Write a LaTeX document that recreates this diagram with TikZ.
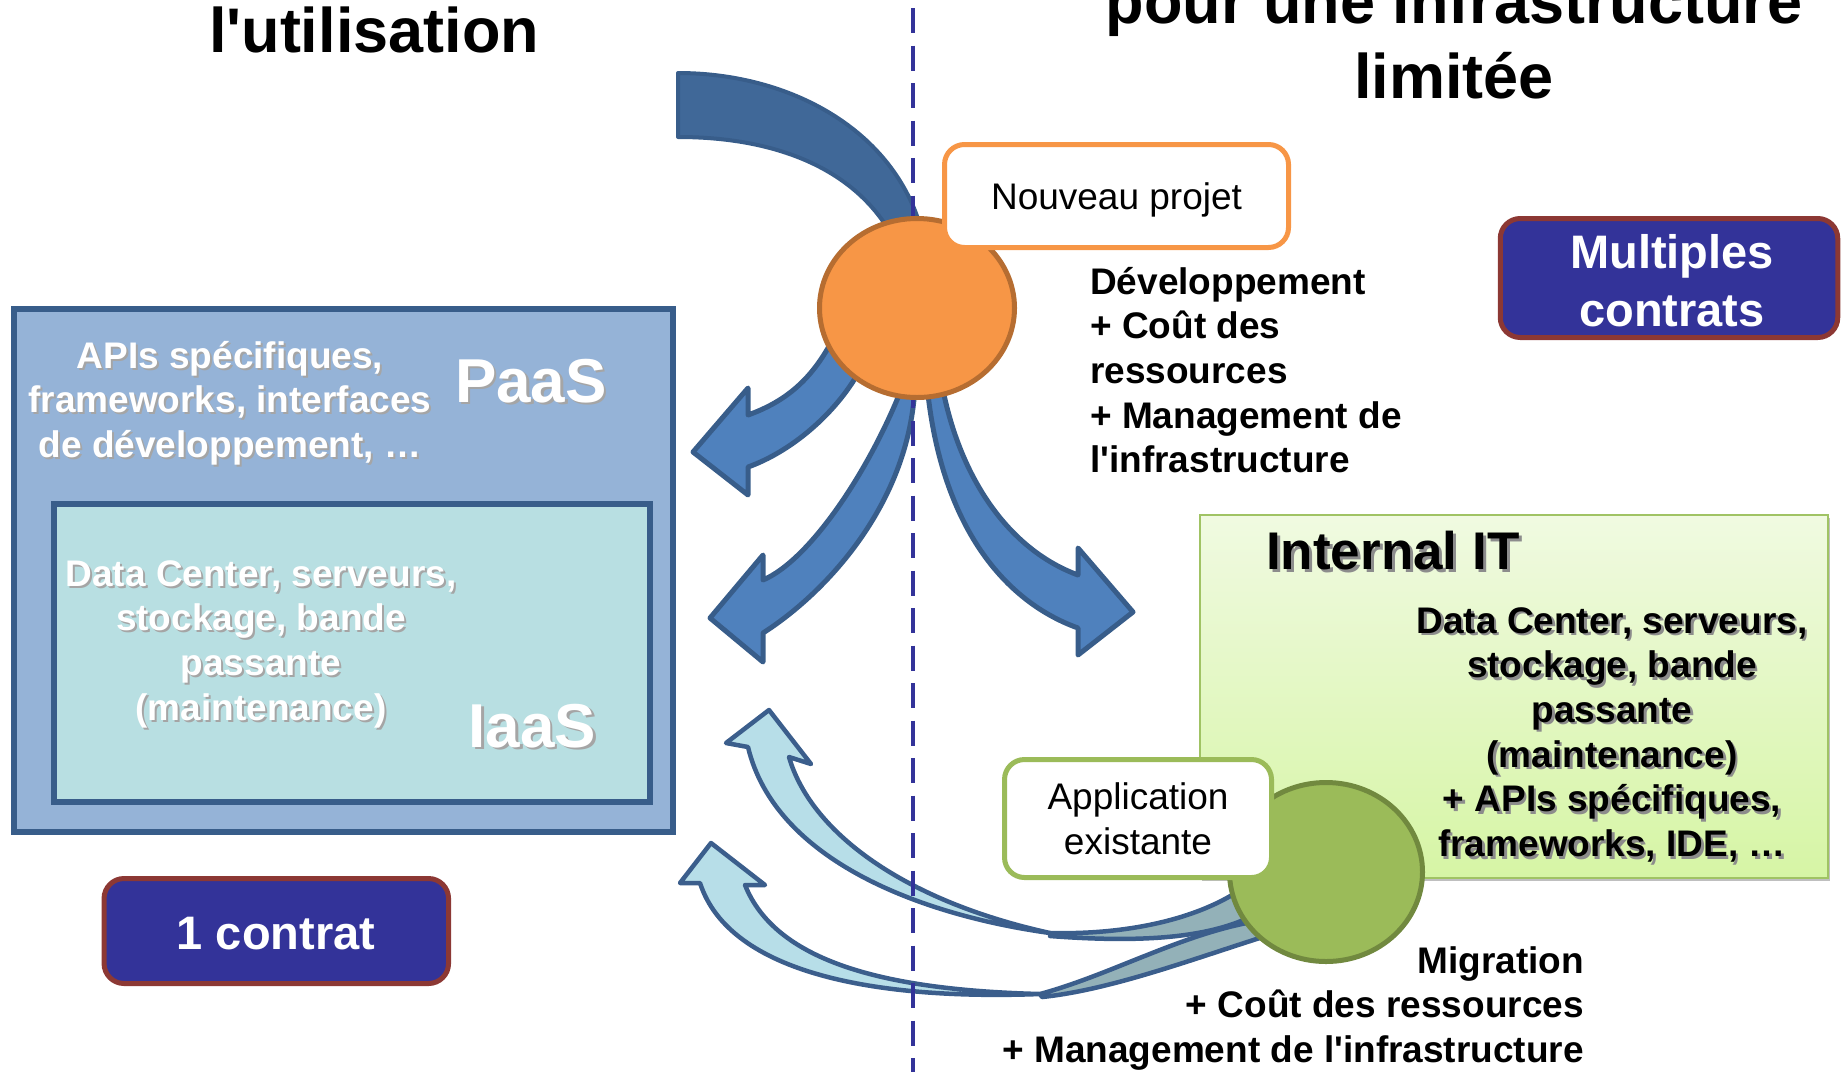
\documentclass[tikz,border=0pt]{standalone}
\usepackage{fontspec}
\setmainfont{Liberation Sans}
\usetikzlibrary{shapes.geometric,shadows}

\definecolor{bandblue}{RGB}{64,104,152}
\definecolor{bandedge}{RGB}{56,93,138}
\definecolor{arrowblue}{RGB}{79,129,189}
\definecolor{arrowedge}{RGB}{56,93,138}
\definecolor{orangefill}{RGB}{247,150,70}
\definecolor{orangeedge}{RGB}{182,109,49}
\definecolor{greenfill}{RGB}{155,187,89}
\definecolor{greenedge}{RGB}{113,137,63}
\definecolor{cyanlight}{RGB}{183,222,232}
\definecolor{cyandark}{RGB}{147,177,184}
\definecolor{cyanedge}{RGB}{59,94,140}
\definecolor{contractfill}{RGB}{51,51,153}
\definecolor{contractedge}{RGB}{140,56,52}
\definecolor{paasfill}{RGB}{149,179,215}
\definecolor{iaasfill}{RGB}{184,223,226}
\definecolor{frameedge}{RGB}{56,93,138}
\definecolor{ittop}{RGB}{240,250,225}
\definecolor{itbottom}{RGB}{214,245,165}
\definecolor{itedge}{RGB}{160,195,100}
\definecolor{dividerblue}{RGB}{51,51,153}
\definecolor{txtshadow}{RGB}{165,165,165}
\definecolor{darkshadow}{RGB}{140,140,140}

% a block of lines whose baseline is that of its first line
\newcommand{\txtblock}[2]{\begin{tabular}[t]{@{}#1@{}}#2\end{tabular}}

\begin{document}
\begin{tikzpicture}[x=1pt,y=-1pt,
  title/.style={font=\fontsize{63}{75}\selectfont\bfseries, inner sep=0pt},
  bodybold/.style={font=\fontsize{37}{44.7}\selectfont\bfseries, inner sep=0pt},
  bodyplain/.style={font=\fontsize{37}{45}\selectfont, inner sep=0pt},
  bigword/.style={font=\fontsize{62}{70}\selectfont\bfseries, inner sep=0pt},
  ittitle/.style={font=\fontsize{53}{60}\selectfont\bfseries, inner sep=0pt},
  contract/.style={draw=contractedge, fill=contractfill, line width=5pt, rounded corners=20pt, inner sep=0pt},
  contracttext/.style={font=\fontsize{47}{58}\selectfont\bfseries, text=white, inner sep=0pt},
  callout/.style={draw=#1, fill=white, line width=5pt, rounded corners=20pt, inner sep=0pt},
  hub/.style={ellipse, line width=5pt, inner sep=0pt},
  layer/.style={draw=frameedge, rectangle, inner sep=0pt},
  bigarrow/.style={fill=arrowblue, draw=arrowedge, line width=5pt, line join=round},
  ribbonlight/.style={fill=cyanlight, draw=cyanedge, line width=4.5pt, line join=round},
  ribbondark/.style={fill=cyandark, draw=cyanedge, line width=4.5pt, line join=round},
]
\useasboundingbox (0,0) rectangle (1841,1072);
\clip (0,0) rectangle (1841,1072);

% ---- titles
\node[title, anchor=base] (titleleft) at (374,52) {l\textquotesingle utilisation};
\node[title, anchor=base] (titleright) at (1454,23) {\txtblock{c}{pour une infrastructure\\limitée}};

% ---- cloud stack: PaaS over IaaS
\node[layer, fill=paasfill, line width=6.5pt, minimum width=659pt, minimum height=523pt] (paas) at (343.5,570.5) {};
\node[layer, fill=iaasfill, line width=6pt, minimum width=596pt, minimum height=298pt] (iaas) at (352,653) {};

\node[bodybold, text=txtshadow, anchor=base] (paastextshadow) at (232,370)
  {\txtblock{c}{APIs spécifiques,\\frameworks, interfaces\\de développement, …}};
\node[bodybold, text=white, anchor=base] (paastext) at (230,368)
  {\txtblock{c}{APIs spécifiques,\\frameworks, interfaces\\de développement, …}};
\node[bigword, text=txtshadow, anchor=base] (paaslabelshadow) at (533.5,404.5) {PaaS};
\node[bigword, text=white, anchor=base] (paaslabel) at (531,402) {PaaS};

\node[bodybold, text=txtshadow, anchor=base] (iaastextshadow) at (263,588)
  {\txtblock{c}{Data Center, serveurs,\\stockage, bande\\passante\\(maintenance)}};
\node[bodybold, text=white, anchor=base] (iaastext) at (261,586)
  {\txtblock{c}{Data Center, serveurs,\\stockage, bande\\passante\\(maintenance)}};
\node[bigword, text=txtshadow, anchor=base] (iaaslabelshadow) at (535,749.5) {IaaS};
\node[bigword, text=white, anchor=base] (iaaslabel) at (532.5,747) {IaaS};

% ---- internal IT
\node[draw=itedge, line width=2.5pt, top color=ittop, bottom color=itbottom,
      minimum width=628pt, minimum height=363pt, inner sep=0pt,
      drop shadow={shadow xshift=1.5pt, shadow yshift=-3pt, fill=black, opacity=0.25}]
      (internal) at (1514,696.5) {};
\node[ittitle, text=darkshadow, anchor=base west] (ittitleshadow) at (1269,572) {Internal IT};
\node[ittitle, anchor=base west] (ittitletext) at (1266,569) {Internal IT};
\node[bodybold, text=darkshadow, anchor=base] (ittextshadow) at (1614.5,635.5)
  {\txtblock{c}{Data Center, serveurs,\\stockage, bande\\passante\\(maintenance)\\+ APIs spécifiques,\\frameworks, IDE, …}};
\node[bodybold, anchor=base] (ittext) at (1612,633)
  {\txtblock{c}{Data Center, serveurs,\\stockage, bande\\passante\\(maintenance)\\+ APIs spécifiques,\\frameworks, IDE, …}};

% ---- flows leaving the new project
\draw[fill=bandblue, draw=bandedge, line width=4pt, line join=round]
  (678,73) .. controls (790,73) and (895,130) .. (922,232)
  -- (890,232) .. controls (850,165) and (770,137) .. (678,137) -- cycle;
\draw[bigarrow] (835,335) .. controls (815,375) and (790,400) .. (748,415)
  -- (748,388) -- (693,452) -- (748,495) -- (748,467)
  .. controls (790,452) and (835,415) .. (860,370) -- cycle;
\draw[bigarrow] (903,385) .. controls (870,470) and (810,560) .. (763,580)
  -- (763,555) -- (710,618) -- (763,662) -- (763,633)
  .. controls (830,590) and (910,500) .. (915,385) -- cycle;
\draw[bigarrow] (942,385) .. controls (960,480) and (1010,550) .. (1078,575)
  -- (1078,548) -- (1133,612) -- (1078,655) -- (1078,628)
  .. controls (1000,600) and (940,520) .. (927,385) -- cycle;

% ---- migration ribbons leaving the existing application
\draw[ribbonlight] (745,885) .. controls (775,960) and (880,990) .. (1040,994)
  .. controls (880,1000) and (730,975) .. (700,883)
  -- (680,883) -- (711,843) -- (765,885) -- cycle;
\draw[ribbondark] (1040,994) .. controls (1110,975) and (1180,935) .. (1252,922)
  -- (1266,936) .. controls (1190,960) and (1110,990) .. (1042,997) -- cycle;
\draw[ribbonlight] (789,757) .. controls (810,830) and (900,900) .. (1050,933)
  .. controls (920,915) and (775,860) .. (748,747)
  -- (726,743) -- (769,710) -- (811,764) -- cycle;
\draw[ribbondark] (1050,933) .. controls (1130,935) and (1200,918) .. (1243,888)
  -- (1248,918) .. controls (1200,940) and (1130,942) .. (1050,936) -- cycle;

% ---- divider between the two models
\coordinate (divtop) at (913,0);
\coordinate (divbot) at (913,1072);
\draw[dividerblue, line width=4.5pt, dash pattern=on 25pt off 12.5pt, dash phase=29.5pt] (divtop) -- (divbot);

% ---- hubs
\node[hub, fill=orangefill, draw=orangeedge, minimum width=195pt, minimum height=179pt] (newhub) at (917,308) {};
\node[hub, fill=greenfill, draw=greenedge, minimum width=193pt, minimum height=179pt] (oldhub) at (1326,872) {};

% ---- callouts
\node[callout=orangefill, bodyplain, minimum width=344pt, minimum height=103pt,
      text height=26pt, text depth=0pt] (newproj) at (1116.5,196) {Nouveau projet};
\node[callout=greenfill, minimum width=267pt, minimum height=118pt] (oldapp) at (1138,818.5) {};
\node[bodyplain, anchor=base] (oldapptext) at (1138,809) {\txtblock{c}{Application\\existante}};

% ---- contracts
\node[contract, minimum width=344.5pt, minimum height=105pt] (onecontract) at (276.3,931) {};
\node[contracttext, anchor=base] (onecontracttext) at (276,949) {1 contrat};
\node[contract, minimum width=337.5pt, minimum height=119pt] (multicontract) at (1669,278) {};
\node[contracttext, anchor=base] (multicontracttext) at (1672,268) {\txtblock{c}{Multiples\\contrats}};

% ---- cost notes
\node[bodybold, anchor=base west] (devcost) at (1090,294)
  {\txtblock{l}{Développement\\+ Coût des\\ressources\\+ Management de\\l\textquotesingle infrastructure}};
\node[bodybold, anchor=base east] (migcost) at (1584,973)
  {\txtblock{r}{Migration\\+ Coût des ressources\\+ Management de l\textquotesingle infrastructure}};
\end{tikzpicture}
\end{document}
